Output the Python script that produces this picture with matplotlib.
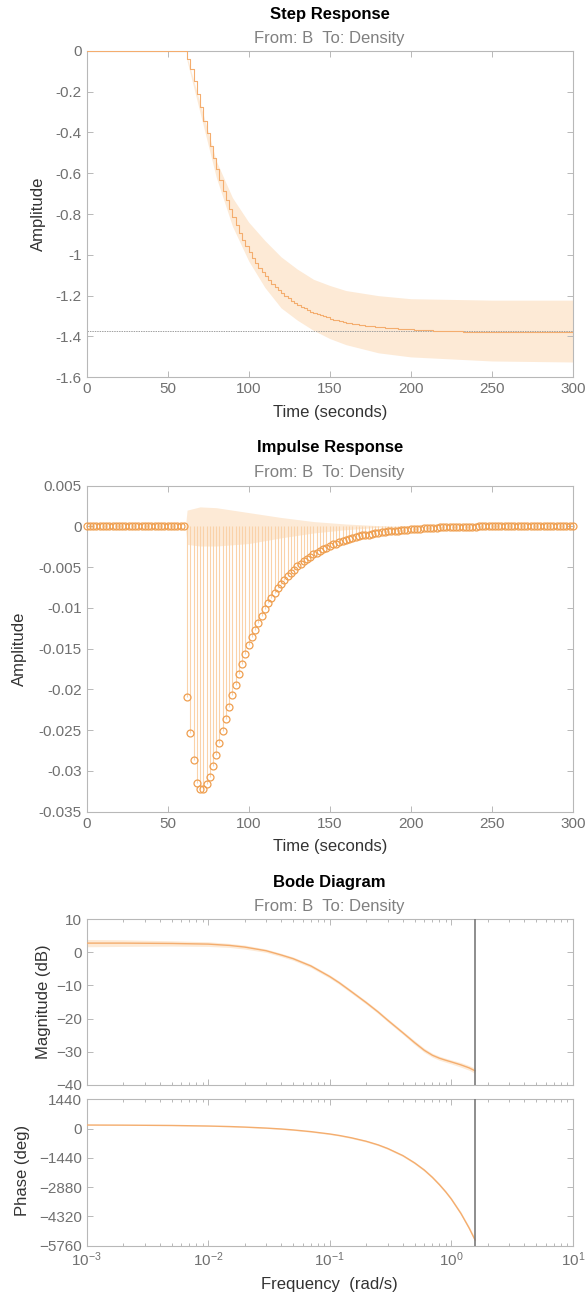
import numpy as np
import matplotlib
matplotlib.use("Agg")
from matplotlib import pyplot as plt

plt.rcParams["font.family"] = ["Liberation Sans", "DejaVu Sans"]
plt.rcParams["mathtext.fontset"] = "custom"
plt.rcParams["mathtext.rm"] = "Liberation Sans"
plt.rcParams["mathtext.it"] = "Liberation Sans"

# ---- data ----
Ts = 2
t = np.arange(0, 302, Ts)  # 0..300 s sample grid

step_vals = [0.0] * 31 + [
    -0.042, -0.092, -0.150, -0.213, -0.277, -0.342, -0.405, -0.466, -0.525, -0.581,
    -0.634, -0.685, -0.732, -0.776, -0.817, -0.856, -0.892, -0.926, -0.958, -0.987,
    -1.014, -1.039, -1.063, -1.085, -1.105, -1.124, -1.142, -1.158, -1.173, -1.187,
    -1.200, -1.213, -1.224, -1.235, -1.245, -1.254, -1.262, -1.270, -1.278, -1.284,
    -1.291, -1.297, -1.302, -1.307, -1.312, -1.317, -1.321, -1.325, -1.328, -1.332,
    -1.335, -1.338, -1.340, -1.343, -1.345, -1.347, -1.349, -1.351, -1.352, -1.354,
    -1.355, -1.357, -1.358, -1.359, -1.360, -1.361, -1.362, -1.363, -1.364, -1.365,
    -1.366, -1.367, -1.368, -1.369, -1.370, -1.370, -1.371, -1.372, -1.372, -1.373,
    -1.373, -1.374, -1.374, -1.375, -1.375, -1.376, -1.376, -1.376, -1.377, -1.377,
    -1.377, -1.377, -1.378, -1.378, -1.378, -1.378, -1.378, -1.378, -1.379, -1.379,
    -1.379, -1.379, -1.379, -1.379, -1.379, -1.379, -1.380, -1.380, -1.380, -1.380,
    -1.380, -1.380, -1.380, -1.380, -1.380, -1.380, -1.380, -1.380, -1.380, -1.380,
]
step_final = -1.375

band_t = [62, 80, 90, 100, 110, 120, 130, 140, 150, 160, 180, 200, 250, 300]
step_hi = [-0.03, -0.54, -0.72, -0.84, -0.93, -1.01, -1.07, -1.12, -1.15, -1.175, -1.20, -1.215, -1.222, -1.222]
step_lo = [-0.05, -0.62, -0.86, -1.03, -1.16, -1.26, -1.32, -1.37, -1.41, -1.44, -1.48, -1.50, -1.52, -1.525]

imp_vals = [0.0] * 31 + [
    -0.0209, -0.0253, -0.0287, -0.0315, -0.0322, -0.0322, -0.0316, -0.0307, -0.0294, -0.0281,
    -0.0266, -0.0251, -0.0236, -0.0221, -0.0207, -0.0194, -0.0181, -0.0169, -0.0157, -0.0146,
    -0.0136, -0.0127, -0.0118, -0.0110, -0.0101, -0.0094, -0.0088, -0.0082, -0.0076, -0.0071,
    -0.0066, -0.0061, -0.0057, -0.0053, -0.0049, -0.0046, -0.0043, -0.0040, -0.0037, -0.0034,
    -0.0032, -0.0030, -0.0028, -0.0026, -0.0024, -0.0022, -0.0021, -0.0019, -0.0018, -0.0017,
    -0.0016, -0.0014, -0.0013, -0.0012, -0.0011, -0.0011, -0.0010, -0.0009, -0.0008, -0.0008,
    -0.0007, -0.0007, -0.0006, -0.0006, -0.0005, -0.0005, -0.0004, -0.0004, -0.0004, -0.0003,
    -0.0003, -0.0003, -0.0003, -0.0002, -0.0002, -0.0002, -0.0002, -0.0002, -0.0001, -0.0001,
    -0.0001, -0.0001, -0.0001, -0.0001, -0.0001, -0.0001, -0.0001, -0.0001, -0.0001, -0.0001,
] + [0.0] * 30

imp_band_t = [0, 61, 62, 70, 80, 100, 120, 140, 160, 180, 200, 300]
imp_hi = [0, 0, 0.0020, 0.0024, 0.0023, 0.0017, 0.0011, 0.0006, 0.0003, 0.0001, 0, 0]
imp_lo = [0, 0, -0.0022, -0.0024, -0.0024, -0.0021, -0.0014, -0.0008, -0.0004, -0.0001, 0, 0]

w = [0.001, 0.002, 0.005, 0.01, 0.015, 0.02, 0.03, 0.04, 0.05, 0.07, 0.1, 0.12, 0.15, 0.2, 0.25,
     0.3, 0.4, 0.5, 0.6, 0.7, 0.8, 0.9, 1.0, 1.2, 1.4, 1.571]
mag_db = [2.8, 2.8, 2.7, 2.5, 2.1, 1.6, 0.5, -0.8, -1.9, -4.1, -7.3, -9.2, -11.8, -15.2, -18.0,
          -20.5, -24.3, -27.3, -29.6, -31.1, -32.0, -32.6, -33.1, -34.0, -34.9, -35.8]
mag_hw = [1.1, 1.0, 0.8, 0.7, 0.6, 0.6, 0.5, 0.5, 0.5, 0.5, 0.5, 0.5, 0.5, 0.5, 0.5,
          0.5, 0.5, 0.6, 0.6, 0.6, 0.6, 0.6, 0.6, 0.7, 0.7, 0.8]
phase_deg = [175, 169, 153, 126, 100, 74, 25, -20, -66, -150, -265, -340, -450, -625, -800,
             -980, -1330, -1690, -2040, -2400, -2760, -3110, -3460, -4170, -4880, -5480]
phase_hw = [10, 10, 10, 15, 15, 20, 20, 25, 25, 30, 30, 30, 35, 40, 40,
            45, 50, 55, 60, 60, 65, 65, 70, 75, 80, 85]
w_nyq = np.pi / Ts

step_yticks = [0, -0.2, -0.4, -0.6, -0.8, -1.0, -1.2, -1.4, -1.6]
step_ylabels = ["0", "-0.2", "-0.4", "-0.6", "-0.8", "-1", "-1.2", "-1.4", "-1.6"]
imp_yticks = [0.005, 0, -0.005, -0.01, -0.015, -0.02, -0.025, -0.03, -0.035]
imp_ylabels = ["0.005", "0", "-0.005", "-0.01", "-0.015", "-0.02", "-0.025", "-0.03", "-0.035"]
time_ticks = [0, 50, 100, 150, 200, 250, 300]
mag_ticks = [10, 0, -10, -20, -30, -40]
phase_ticks = [1440, 0, -1440, -2880, -4320, -5760]
freq_ticks = [1e-3, 1e-2, 1e-1, 1e0, 1e1]
freq_labels = [r"$10^{-3}$", r"$10^{-2}$", r"$10^{-1}$", r"$10^{0}$", r"$10^{1}$"]

# ---- style ----
LINE = "#F4AD6E"
MARK = "#EF9F50"
BAND = "#FDEAD6"
STEM = "#FAD2A9"
SPINE = "#b8b8b8"
TICKC = "#707070"
LABC = "#333333"
SUBC = "#808080"

W, H = 585, 1300
fig = plt.figure(figsize=(W / 100, H / 100), dpi=100)


def axes_px(left, top, right, bottom):
    return fig.add_axes([left / W, 1 - bottom / H, (right - left) / W, (bottom - top) / H])


def style(ax):
    for s in ax.spines.values():
        s.set_color(SPINE)
        s.set_linewidth(0.8)
    ax.tick_params(which="both", direction="in", top=True, right=True,
                   colors=SPINE, labelcolor=TICKC, labelsize=11, width=0.7)
    ax.tick_params(which="major", length=4)
    ax.tick_params(which="minor", length=2.5)


XL, XR = 86.6, 572.8
CX = (XL + XR) / 2

# ---- Step response ----
ax1 = axes_px(XL, 50.7, XR, 377.3)
ax1.fill_between(band_t, step_lo, step_hi, color=BAND, lw=0, zorder=1)
ax1.plot([0, 300], [step_final, step_final], color="#a0a0a0", lw=0.7, ls=(0, (1.5, 1)), zorder=2)
ax1.step(t, step_vals, where="post", color=LINE, lw=0.8, zorder=3)
ax1.set_xlim(0, 300)
ax1.set_ylim(-1.6, 0)
ax1.set_xticks(time_ticks)
ax1.set_yticks(step_yticks)
ax1.set_yticklabels(step_ylabels)
style(ax1)

# ---- Impulse response ----
ax2 = axes_px(XL, 485.7, XR, 811.7)
ax2.fill_between(imp_band_t, imp_lo, imp_hi, color=BAND, lw=0, zorder=1)
ax2.vlines(t, 0, imp_vals, color=STEM, lw=0.8, zorder=2)
ax2.plot(t, imp_vals, "o", ms=5, mfc="none", mec=MARK, mew=0.9, zorder=3, clip_on=False)
ax2.set_xlim(0, 300)
ax2.set_ylim(-0.035, 0.005)
ax2.set_xticks(time_ticks)
ax2.set_yticks(imp_yticks)
ax2.set_yticklabels(imp_ylabels)
style(ax2)

# ---- Bode magnitude ----
mag_db_a = np.array(mag_db)
mag_hw_a = np.array(mag_hw)
ph_a = np.array(phase_deg)
ph_hw_a = np.array(phase_hw)

ax3 = axes_px(XL, 919.3, XR, 1084.7)
ax3.fill_between(w, mag_db_a - mag_hw_a, mag_db_a + mag_hw_a, color=BAND, lw=0, zorder=1)
ax3.plot(w, mag_db, color=LINE, lw=1.0, zorder=3)
ax3.axvline(w_nyq, color="#7a7a7a", lw=1.2, zorder=4)
ax3.set_xscale("log")
ax3.set_xlim(1e-3, 1e1)
ax3.set_ylim(-40, 10)
ax3.set_yticks(mag_ticks)
ax3.set_xticks(freq_ticks)
ax3.set_xticklabels([])
style(ax3)

# ---- Bode phase ----
ax4 = axes_px(XL, 1099.3, XR, 1245.7)
ax4.fill_between(w, ph_a - ph_hw_a, ph_a + ph_hw_a, color=BAND, lw=0, zorder=1)
ax4.plot(w, phase_deg, color=LINE, lw=1.0, zorder=3)
ax4.axvline(w_nyq, color="#7a7a7a", lw=1.2, zorder=4)
ax4.set_xscale("log")
ax4.set_xlim(1e-3, 1e1)
ax4.set_ylim(-5760, 1440)
ax4.set_yticks(phase_ticks)
ax4.set_xticks(freq_ticks)
ax4.set_xticklabels(freq_labels)
style(ax4)

# ---- titles and labels ----
def ftext(x, y, s, **kw):
    fig.text(x / W, 1 - y / H, s, ha="center", va="center", **kw)


for ty, sy, name in [(14, 38, "Step Response"), (447, 473, "Impulse Response"), (882, 907, "Bode Diagram")]:
    ftext(CX, ty, name, fontsize=12, fontweight="bold", color="black")
    ftext(CX, sy, "From: B  To: Density", fontsize=12, color=SUBC)

ftext(CX, 413, "Time (seconds)", fontsize=12, color=LABC)
ftext(CX, 847, "Time (seconds)", fontsize=12, color=LABC)
ftext(CX, 1285, "Frequency  (rad/s)", fontsize=12, color=LABC)
ftext(38, 214, "Amplitude", fontsize=12, color=LABC, rotation=90)
ftext(19.5, 648.7, "Amplitude", fontsize=12, color=LABC, rotation=90)
ftext(43.8, 1002, "Magnitude (dB)", fontsize=12, color=LABC, rotation=90)
ftext(23, 1170, "Phase (deg)", fontsize=12, color=LABC, rotation=90)

fig.savefig("out.png", dpi=100)
